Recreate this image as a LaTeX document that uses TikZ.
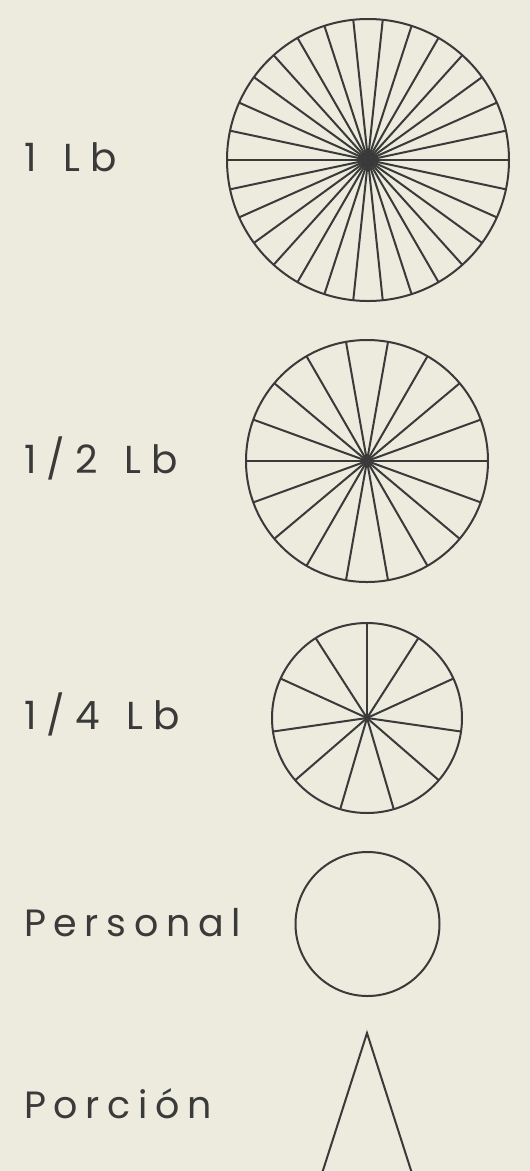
\documentclass[tikz,border=0pt]{standalone}
\usepackage{fontspec}
\setmainfont{Poppins}[LetterSpace=20]
\definecolor{bg}{HTML}{ECEBDE}
\definecolor{ink}{HTML}{3A3A3A}
\tikzset{
  lbl/.style={anchor=base west, inner sep=0pt, text=ink, font=\fontsize{38}{40}\selectfont},
  lblw/.style={lbl, font=\fontsize{39}{40}\selectfont\addfontfeature{LetterSpace=26}},
  shapeline/.style={draw=ink, line width=2pt, line join=miter}
}
\begin{document}
\begin{tikzpicture}[x=1pt,y=-1pt]
\fill[bg] (0,0) rectangle (530,1171);
\useasboundingbox (0,0) rectangle (530,1171);
\clip (0,0) rectangle (530,1171);

% labels
\node[lblw] (t1) at (24,171) {1\ \kern6pt Lb};
\node[lblw] (t2) at (24,473) {1/2\ \kern6pt Lb};
\node[lblw] (t3) at (24,729) {1/4\ \kern6pt Lb};
\node[lbl] (t4) at (24,936) {Personal};
\node[lbl] (t5) at (24,1118) {Porción};

% wheel 1 lb
\coordinate (w1) at (368,160);
\draw[shapeline] (w1) circle[radius=141pt];
\foreach \k in {0,...,29} \draw[shapeline] (w1) -- ++(\k*12:141pt);

% wheel 1/2 lb
\coordinate (w2) at (367,461);
\draw[shapeline] (w2) circle[radius=121pt];
\foreach \k in {0,...,17} \draw[shapeline] (w2) -- ++(\k*20:121pt);

% wheel 1/4 lb
\coordinate (w3) at (367,718);
\draw[shapeline] (w3) circle[radius=95pt];
\foreach \k in {0,...,10} \draw[shapeline] (w3) -- ++({90+\k*360/11}:95pt);

% personal
\coordinate (w4) at (367.5,924);
\draw[shapeline] (w4) circle[radius=72pt];

% porcion (triangle, base below the page edge)
\coordinate (apex) at (367,1033);
\coordinate (bl) at (321.5,1175);
\coordinate (br) at (412.5,1175);
\draw[shapeline] (apex) -- (bl) -- (br) -- cycle;
\end{tikzpicture}
\end{document}
